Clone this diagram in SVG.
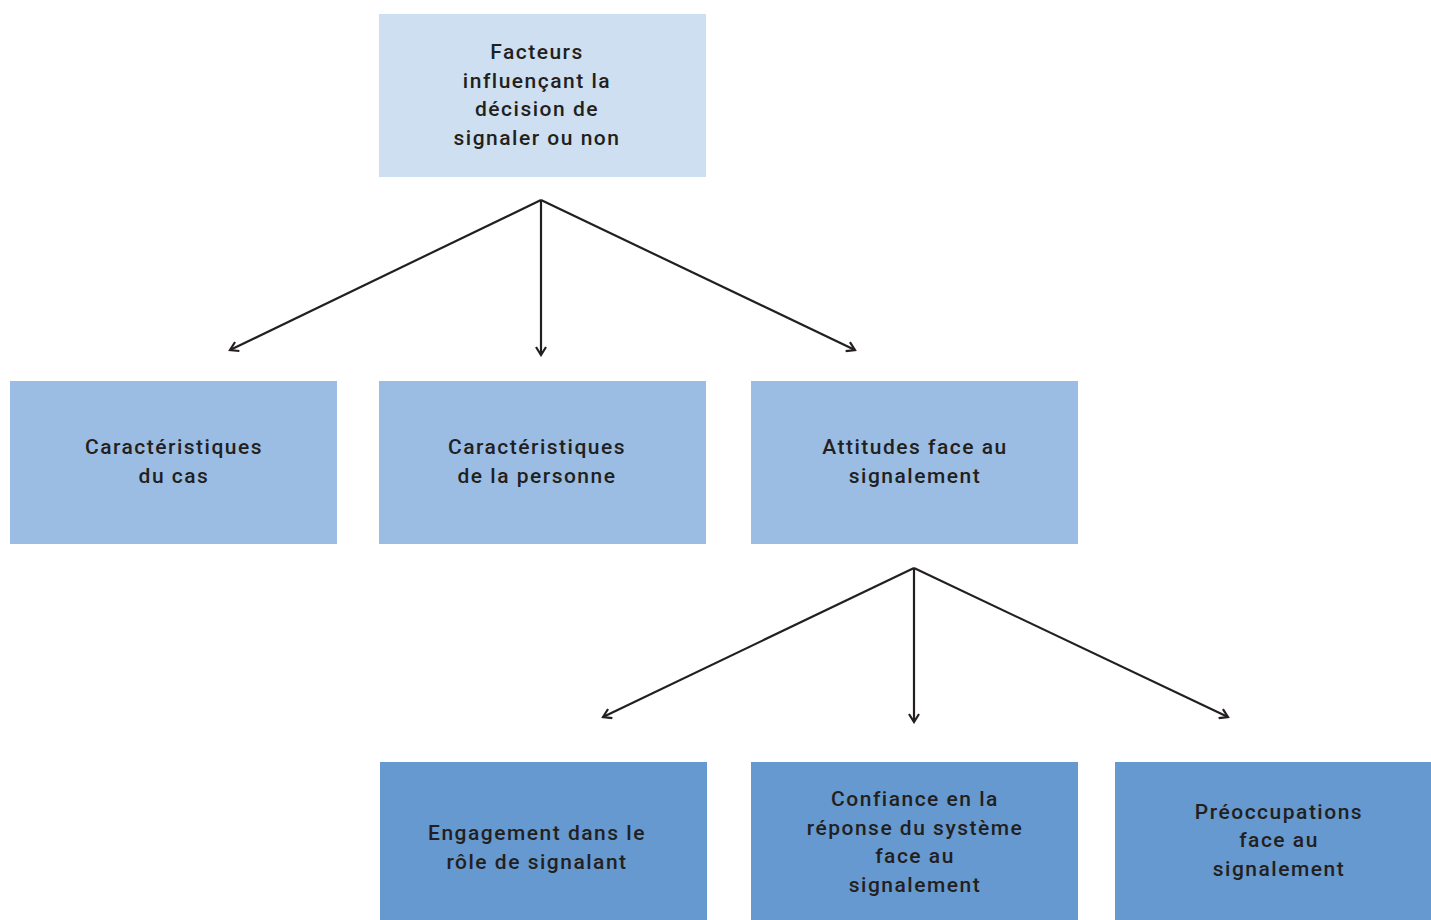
<svg xmlns="http://www.w3.org/2000/svg" width="1431" height="920" viewBox="0 0 1431 920">
<defs>
<style>
.t{font-family:Roboto,"Liberation Sans",sans-serif;font-weight:500;font-size:21px;letter-spacing:1.5px;fill:#231f20;text-anchor:middle}
.l1{fill:#cddff0}
.l2{fill:#9bbde3}
.l3{fill:#6699cf}
.c{stroke:#231f20;stroke-width:2.2;fill:none}
</style>
<marker id="ah" viewBox="0 0 12 12" refX="10" refY="6" markerWidth="12" markerHeight="12" markerUnits="userSpaceOnUse" orient="auto">
<path d="M2,1 L10,6 L2,11" fill="none" stroke="#231f20" stroke-width="2.2"/>
</marker>
</defs>
<rect width="1431" height="920" fill="#ffffff"/>
<g id="n-facteurs">
<rect class="l1" x="379" y="14" width="327" height="163"/>
<text class="t" x="537" y="59">Facteurs</text>
<text class="t" x="537" y="88">influençant la</text>
<text class="t" x="537" y="116">décision de</text>
<text class="t" x="537" y="145">signaler ou non</text>
</g>
<g id="n-cas">
<rect class="l2" x="10" y="381" width="327" height="163"/>
<text class="t" x="174" y="454">Caractéristiques</text>
<text class="t" x="174" y="483">du cas</text>
</g>
<g id="n-personne">
<rect class="l2" x="379" y="381" width="327" height="163"/>
<text class="t" x="537" y="454">Caractéristiques</text>
<text class="t" x="537" y="483">de la personne</text>
</g>
<g id="n-attitudes">
<rect class="l2" x="751" y="381" width="327" height="163"/>
<text class="t" x="915" y="454">Attitudes face au</text>
<text class="t" x="915" y="483">signalement</text>
</g>
<g id="n-engagement">
<rect class="l3" x="380" y="762" width="327" height="158"/>
<text class="t" x="537" y="840">Engagement dans le</text>
<text class="t" x="537" y="869">rôle de signalant</text>
</g>
<g id="n-confiance">
<rect class="l3" x="751" y="762" width="327" height="158"/>
<text class="t" x="915" y="806">Confiance en la</text>
<text class="t" x="915" y="835">réponse du système</text>
<text class="t" x="915" y="863">face au</text>
<text class="t" x="915" y="892">signalement</text>
</g>
<g id="n-preoccupations">
<rect class="l3" x="1115" y="762" width="316" height="158"/>
<text class="t" x="1279" y="819">Préoccupations</text>
<text class="t" x="1279" y="847">face au</text>
<text class="t" x="1279" y="876">signalement</text>
</g>
<g id="connectors">
<line class="c" x1="541" y1="200" x2="230" y2="350" marker-end="url(#ah)"/>
<line class="c" x1="541" y1="200" x2="541" y2="355" marker-end="url(#ah)"/>
<line class="c" x1="541" y1="200" x2="855" y2="350" marker-end="url(#ah)"/>
<line class="c" x1="914" y1="568" x2="603" y2="717" marker-end="url(#ah)"/>
<line class="c" x1="914" y1="568" x2="914" y2="722" marker-end="url(#ah)"/>
<line class="c" x1="914" y1="568" x2="1228" y2="717" marker-end="url(#ah)"/>
</g>
</svg>
